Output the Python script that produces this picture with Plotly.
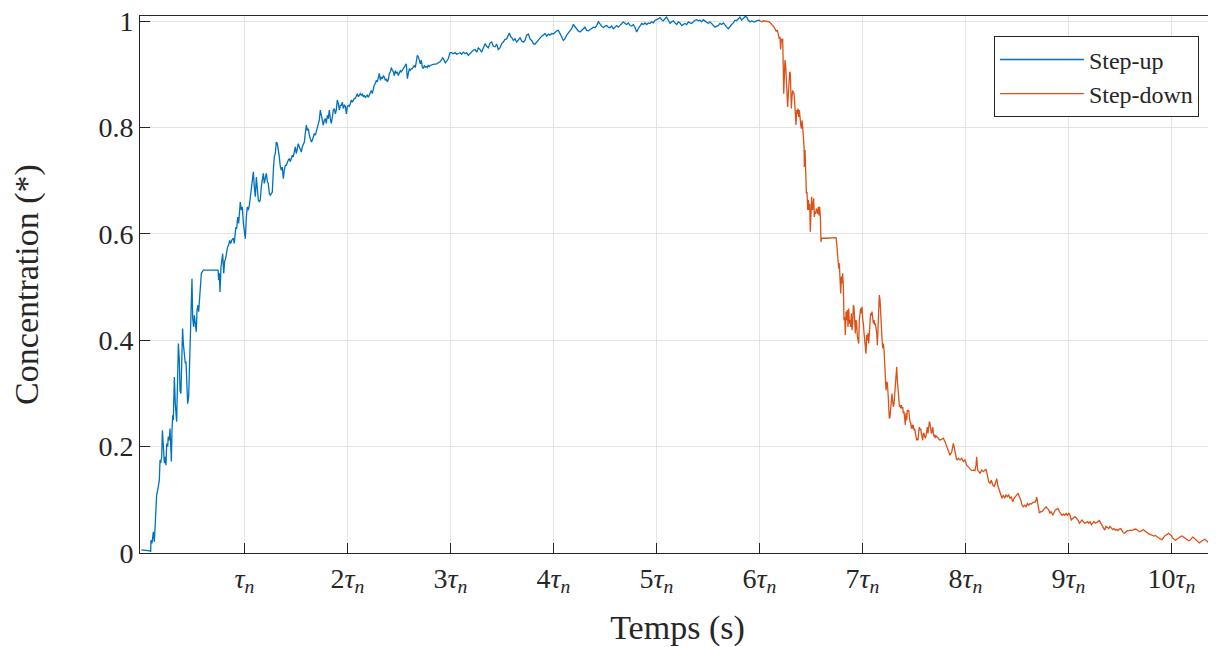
import plotly.graph_objects as go

# ---- data (time in units of tau_n, concentration normalised) ----
up_rise = [
    (0.000, 0.006), (0.084, 0.004), (0.091, 0.002), (0.094, 0.024), (0.104, 0.018), (0.117, 0.040),
    (0.127, 0.021), (0.133, 0.043), (0.143, 0.093), (0.149, 0.109), (0.159, 0.118), (0.169, 0.131),
    (0.175, 0.137), (0.182, 0.175), (0.188, 0.169), (0.198, 0.181), (0.205, 0.231), (0.214, 0.200),
    (0.224, 0.169), (0.233, 0.181), (0.240, 0.165), (0.246, 0.206), (0.256, 0.200), (0.262, 0.219),
    (0.272, 0.212), (0.279, 0.234), (0.285, 0.206), (0.292, 0.172), (0.298, 0.231), (0.305, 0.259),
    (0.311, 0.250), (0.321, 0.331), (0.330, 0.281), (0.343, 0.247), (0.350, 0.306), (0.360, 0.394),
    (0.369, 0.363), (0.376, 0.306), (0.385, 0.300), (0.395, 0.382), (0.401, 0.422), (0.408, 0.394),
    (0.418, 0.369), (0.427, 0.357), (0.434, 0.360), (0.440, 0.306), (0.450, 0.281), (0.460, 0.294),
    (0.470, 0.363), (0.479, 0.394), (0.486, 0.451), (0.492, 0.516), (0.499, 0.441), (0.508, 0.425),
    (0.515, 0.447), (0.525, 0.435), (0.534, 0.416), (0.541, 0.457), (0.550, 0.466), (0.557, 0.454),
    (0.563, 0.472), (0.570, 0.488), (0.576, 0.501), (0.583, 0.526), (0.592, 0.529), (0.602, 0.532),
    (0.745, 0.532), (0.751, 0.513), (0.758, 0.526), (0.764, 0.491), (0.774, 0.538), (0.783, 0.560),
    (0.790, 0.563), (0.800, 0.526), (0.809, 0.548), (0.819, 0.554), (0.829, 0.570), (0.838, 0.576),
    (0.848, 0.579), (0.858, 0.588), (0.868, 0.582), (0.877, 0.588), (0.893, 0.592), (0.903, 0.582),
    (0.913, 0.604),
]

up_mid = [
    (0.919, 0.613), (0.926, 0.610), (0.936, 0.632), (0.945, 0.620), (0.952, 0.645), (0.961, 0.660),
    (0.971, 0.645), (0.981, 0.651), (0.991, 0.620), (1.000, 0.607), (1.010, 0.591), (1.020, 0.632),
    (1.029, 0.651), (1.039, 0.645), (1.049, 0.654), (1.059, 0.670), (1.068, 0.682), (1.078, 0.695),
    (1.088, 0.717), (1.097, 0.689), (1.107, 0.670), (1.117, 0.707), (1.126, 0.682), (1.136, 0.664),
    (1.146, 0.660), (1.155, 0.664), (1.165, 0.689), (1.175, 0.704), (1.185, 0.714), (1.194, 0.695),
    (1.204, 0.707), (1.214, 0.714), (1.224, 0.698), (1.233, 0.695), (1.243, 0.676), (1.253, 0.673),
    (1.262, 0.676), (1.272, 0.679), (1.282, 0.720), (1.291, 0.745), (1.301, 0.751), (1.311, 0.773),
    (1.321, 0.770), (1.330, 0.751), (1.340, 0.745), (1.350, 0.726), (1.359, 0.720), (1.369, 0.726),
    (1.379, 0.704), (1.388, 0.720), (1.398, 0.729), (1.408, 0.729), (1.418, 0.736), (1.427, 0.739),
    (1.437, 0.742), (1.447, 0.736), (1.456, 0.742), (1.466, 0.748), (1.476, 0.745), (1.486, 0.754),
    (1.495, 0.764), (1.505, 0.751), (1.515, 0.761), (1.524, 0.770), (1.534, 0.764), (1.544, 0.758),
    (1.554, 0.754), (1.563, 0.764), (1.573, 0.770), (1.583, 0.773), (1.592, 0.789), (1.602, 0.805),
    (1.612, 0.795), (1.622, 0.798), (1.631, 0.786), (1.641, 0.779), (1.651, 0.773), (1.660, 0.776),
    (1.670, 0.783), (1.680, 0.789), (1.690, 0.786), (1.699, 0.792), (1.709, 0.798), (1.719, 0.808),
    (1.728, 0.814), (1.738, 0.833), (1.748, 0.823), (1.757, 0.808), (1.767, 0.805), (1.777, 0.814),
    (1.787, 0.817), (1.796, 0.808), (1.806, 0.823), (1.816, 0.817), (1.825, 0.833), (1.835, 0.817),
    (1.845, 0.808), (1.855, 0.820), (1.864, 0.833), (1.874, 0.836), (1.884, 0.826), (1.893, 0.833),
    (1.903, 0.852), (1.913, 0.845), (1.923, 0.833), (1.932, 0.842), (1.942, 0.842), (1.952, 0.848),
    (1.961, 0.836), (1.971, 0.842), (1.981, 0.840), (1.991, 0.826), (2.000, 0.840), (2.010, 0.842),
    (2.020, 0.840), (2.029, 0.845), (2.039, 0.852), (2.049, 0.848), (2.058, 0.852), (2.068, 0.855),
    (2.078, 0.855), (2.088, 0.861), (2.097, 0.864), (2.107, 0.858), (2.117, 0.861), (2.126, 0.864),
    (2.136, 0.861), (2.146, 0.863), (2.156, 0.858), (2.165, 0.861), (2.175, 0.857), (2.185, 0.859),
    (2.194, 0.861), (2.204, 0.857), (2.214, 0.861), (2.223, 0.863), (2.233, 0.870), (2.243, 0.864),
    (2.253, 0.873), (2.262, 0.880), (2.272, 0.883), (2.282, 0.889), (2.291, 0.886), (2.301, 0.895),
    (2.311, 0.902), (2.321, 0.889), (2.330, 0.895), (2.340, 0.892), (2.350, 0.898), (2.359, 0.895),
    (2.369, 0.889), (2.379, 0.892), (2.388, 0.886), (2.398, 0.890), (2.408, 0.902), (2.418, 0.905),
    (2.427, 0.913), (2.437, 0.908), (2.447, 0.905), (2.456, 0.898), (2.466, 0.907), (2.476, 0.902),
    (2.486, 0.905), (2.495, 0.898), (2.505, 0.903), (2.515, 0.907), (2.524, 0.905), (2.534, 0.908),
    (2.544, 0.911), (2.554, 0.914), (2.563, 0.917), (2.573, 0.920), (2.583, 0.892), (2.592, 0.905),
    (2.602, 0.911), (2.612, 0.908), (2.622, 0.911), (2.631, 0.911), (2.641, 0.914), (2.651, 0.917),
    (2.660, 0.913), (2.670, 0.927), (2.680, 0.936), (2.690, 0.933), (2.699, 0.924), (2.709, 0.920),
    (2.719, 0.927), (2.728, 0.914), (2.738, 0.911), (2.748, 0.917), (2.757, 0.914), (2.767, 0.915),
    (2.777, 0.913), (2.786, 0.917), (2.796, 0.915),
]

up_plateau = [
    (2.803, 0.917), (2.835, 0.919), (2.868, 0.920), (2.884, 0.922), (2.900, 0.924), (2.916, 0.928),
    (2.926, 0.932), (2.939, 0.927), (2.952, 0.922), (2.965, 0.925), (2.981, 0.930), (2.997, 0.941),
    (3.013, 0.941), (3.029, 0.939), (3.046, 0.941), (3.062, 0.938), (3.078, 0.939), (3.094, 0.941),
    (3.110, 0.938), (3.127, 0.942), (3.143, 0.939), (3.159, 0.941), (3.175, 0.936), (3.191, 0.939),
    (3.207, 0.942), (3.224, 0.946), (3.240, 0.947), (3.256, 0.942), (3.272, 0.950), (3.288, 0.947),
    (3.304, 0.942), (3.321, 0.952), (3.337, 0.958), (3.353, 0.953), (3.369, 0.950), (3.385, 0.959),
    (3.402, 0.961), (3.418, 0.953), (3.434, 0.952), (3.450, 0.957), (3.466, 0.947), (3.482, 0.950),
    (3.499, 0.958), (3.515, 0.961), (3.531, 0.966), (3.547, 0.967), (3.563, 0.974), (3.573, 0.978),
    (3.586, 0.971), (3.599, 0.969), (3.612, 0.964), (3.628, 0.967), (3.644, 0.961), (3.660, 0.966),
    (3.677, 0.969), (3.693, 0.963), (3.709, 0.961), (3.725, 0.964), (3.741, 0.974), (3.758, 0.976),
    (3.774, 0.967), (3.790, 0.964), (3.806, 0.958), (3.822, 0.957), (3.838, 0.961), (3.855, 0.964),
    (3.871, 0.967), (3.887, 0.972), (3.903, 0.974), (3.919, 0.977), (3.936, 0.972), (3.952, 0.976),
    (3.968, 0.974), (3.984, 0.977), (4.000, 0.976), (4.016, 0.980), (4.033, 0.982), (4.049, 0.983),
    (4.065, 0.978), (4.081, 0.971), (4.097, 0.964), (4.113, 0.967), (4.130, 0.974), (4.146, 0.978),
    (4.162, 0.983), (4.178, 0.986), (4.194, 0.994), (4.211, 0.989), (4.227, 0.986), (4.243, 0.982),
    (4.259, 0.980), (4.275, 0.983), (4.292, 0.986), (4.308, 0.989), (4.324, 0.983), (4.340, 0.982),
    (4.356, 0.984), (4.372, 0.986), (4.389, 0.989), (4.405, 0.988), (4.421, 0.992), (4.437, 0.999),
    (4.453, 0.994), (4.470, 0.991), (4.486, 0.988), (4.502, 0.991), (4.518, 0.992), (4.534, 0.989),
    (4.550, 0.988), (4.567, 0.991), (4.583, 0.986), (4.599, 0.989), (4.615, 0.992), (4.631, 0.989),
    (4.647, 0.992), (4.664, 0.997), (4.680, 0.999), (4.696, 0.996), (4.712, 0.994), (4.728, 0.997),
    (4.745, 0.992), (4.761, 0.991), (4.777, 0.994), (4.793, 0.989), (4.809, 0.980), (4.825, 0.986),
    (4.842, 0.992), (4.858, 0.996), (4.874, 0.994), (4.890, 0.997), (4.906, 0.994), (4.923, 0.997),
    (4.939, 0.996), (4.955, 0.999), (4.971, 0.997), (4.987, 1.002), (5.003, 1.003), (5.020, 1.005),
    (5.036, 1.007), (5.052, 1.003), (5.068, 1.001), (5.084, 1.005), (5.100, 1.008), (5.117, 1.002),
    (5.133, 0.996), (5.149, 0.999), (5.165, 1.001), (5.181, 0.997), (5.198, 0.994), (5.214, 0.999),
    (5.230, 0.997), (5.246, 0.992), (5.262, 0.994), (5.278, 0.996), (5.295, 0.994), (5.311, 0.999),
    (5.327, 0.997), (5.343, 0.996), (5.359, 0.999), (5.375, 1.002), (5.392, 1.003), (5.408, 1.001),
    (5.424, 1.002), (5.440, 0.999), (5.456, 1.003), (5.473, 1.001), (5.489, 0.999), (5.505, 0.996),
    (5.521, 0.999), (5.537, 0.996), (5.554, 0.991), (5.570, 0.989), (5.586, 0.991), (5.602, 0.992),
    (5.618, 0.996), (5.634, 0.994), (5.651, 0.997), (5.667, 0.992), (5.683, 0.989), (5.699, 0.986),
    (5.715, 0.991), (5.731, 0.994), (5.748, 0.997), (5.764, 1.002), (5.780, 1.001), (5.796, 1.005),
    (5.812, 1.008), (5.829, 1.002), (5.845, 1.005), (5.861, 1.009), (5.877, 1.008), (5.893, 1.002),
    (5.910, 0.999), (5.926, 1.001), (5.942, 0.999), (5.958, 0.999), (5.974, 1.001), (5.991, 1.002),
    (6.007, 1.001),
]

down_fall = [
    (6.007, 1.001), (6.023, 0.999), (6.039, 1.001), (6.072, 1.000), (6.097, 0.999), (6.120, 0.994),
    (6.136, 0.991), (6.152, 0.986), (6.162, 0.982), (6.175, 0.983), (6.185, 0.974), (6.194, 0.967),
    (6.201, 0.971), (6.207, 0.947), (6.214, 0.967), (6.220, 0.964), (6.227, 0.967), (6.233, 0.920),
    (6.237, 0.864), (6.243, 0.895), (6.249, 0.927), (6.256, 0.917), (6.262, 0.895), (6.269, 0.870),
    (6.275, 0.839), (6.282, 0.864), (6.288, 0.886), (6.295, 0.905), (6.301, 0.902), (6.304, 0.858),
    (6.311, 0.836), (6.317, 0.858), (6.324, 0.870), (6.330, 0.867), (6.337, 0.864), (6.343, 0.848),
    (6.350, 0.820), (6.356, 0.805), (6.363, 0.833), (6.369, 0.826), (6.376, 0.836), (6.382, 0.820),
    (6.389, 0.833), (6.395, 0.814), (6.402, 0.805), (6.408, 0.798), (6.415, 0.814), (6.421, 0.801),
    (6.428, 0.783), (6.434, 0.764), (6.437, 0.726), (6.444, 0.758), (6.450, 0.720), (6.457, 0.676),
    (6.463, 0.679), (6.470, 0.645), (6.476, 0.664), (6.483, 0.645), (6.489, 0.657), (6.495, 0.604),
    (6.502, 0.657), (6.508, 0.670), (6.515, 0.645), (6.521, 0.651), (6.528, 0.667), (6.534, 0.632),
    (6.541, 0.642), (6.547, 0.638), (6.554, 0.648), (6.560, 0.645), (6.567, 0.638), (6.573, 0.651),
    (6.580, 0.635), (6.586, 0.651), (6.593, 0.632), (6.599, 0.585), (6.605, 0.592), (6.654, 0.592),
    (6.719, 0.593), (6.745, 0.593), (6.751, 0.582), (6.758, 0.557), (6.764, 0.545), (6.771, 0.535),
    (6.777, 0.545), (6.783, 0.516), (6.790, 0.488), (6.797, 0.520), (6.803, 0.507), (6.809, 0.526),
    (6.816, 0.501), (6.822, 0.438), (6.829, 0.444), (6.835, 0.410), (6.842, 0.454), (6.848, 0.438),
    (6.855, 0.457), (6.861, 0.425), (6.868, 0.460), (6.874, 0.432), (6.881, 0.438), (6.887, 0.425),
    (6.894, 0.451), (6.900, 0.419), (6.907, 0.432), (6.913, 0.466), (6.919, 0.463), (6.926, 0.438),
    (6.932, 0.413), (6.939, 0.438), (6.945, 0.432), (6.952, 0.407), (6.958, 0.400), (6.965, 0.394),
    (6.971, 0.438), (6.978, 0.454), (6.984, 0.460), (6.991, 0.451), (6.997, 0.463), (7.004, 0.438),
    (7.010, 0.432), (7.017, 0.413), (7.023, 0.400), (7.029, 0.388), (7.036, 0.375), (7.042, 0.410),
    (7.049, 0.400), (7.055, 0.413), (7.062, 0.394), (7.068, 0.413), (7.075, 0.438), (7.081, 0.451),
    (7.088, 0.447), (7.094, 0.454), (7.101, 0.441), (7.107, 0.432), (7.114, 0.438), (7.120, 0.429),
    (7.127, 0.432), (7.133, 0.425), (7.140, 0.413), (7.146, 0.391), (7.152, 0.413), (7.159, 0.460),
    (7.165, 0.485), (7.172, 0.476), (7.178, 0.444), (7.185, 0.419), (7.191, 0.404), (7.198, 0.385),
    (7.204, 0.394), (7.211, 0.382), (7.217, 0.350), (7.224, 0.325), (7.230, 0.306), (7.237, 0.322),
    (7.243, 0.319), (7.250, 0.300), (7.256, 0.285), (7.262, 0.253), (7.269, 0.256), (7.275, 0.269),
    (7.282, 0.285), (7.288, 0.300), (7.295, 0.285), (7.301, 0.275), (7.308, 0.281), (7.314, 0.303),
    (7.321, 0.319), (7.327, 0.331), (7.334, 0.350), (7.340, 0.325), (7.347, 0.313), (7.353, 0.294),
    (7.360, 0.275), (7.366, 0.278), (7.373, 0.272), (7.379, 0.278), (7.385, 0.272), (7.392, 0.275),
    (7.398, 0.263), (7.405, 0.266), (7.411, 0.253), (7.418, 0.241), (7.424, 0.263), (7.431, 0.250),
    (7.437, 0.269), (7.444, 0.266), (7.450, 0.269), (7.457, 0.253), (7.463, 0.247), (7.470, 0.244),
    (7.476, 0.234), (7.483, 0.241), (7.489, 0.234), (7.495, 0.241), (7.502, 0.231), (7.508, 0.234),
    (7.515, 0.225), (7.521, 0.216), (7.528, 0.212), (7.534, 0.216), (7.541, 0.212), (7.547, 0.228),
    (7.554, 0.237), (7.560, 0.231), (7.567, 0.234), (7.573, 0.225), (7.580, 0.216), (7.586, 0.212),
    (7.593, 0.225), (7.599, 0.225), (7.606, 0.219), (7.612, 0.216), (7.618, 0.219), (7.625, 0.231),
    (7.631, 0.237), (7.638, 0.225), (7.644, 0.244), (7.651, 0.247), (7.657, 0.244), (7.664, 0.231),
    (7.670, 0.225), (7.677, 0.228), (7.683, 0.237), (7.690, 0.225), (7.696, 0.219), (7.703, 0.222),
    (7.709, 0.216), (7.715, 0.220), (7.722, 0.219), (7.754, 0.212), (7.787, 0.216),
]

down_tail = [
    (7.803, 0.209), (7.819, 0.200), (7.835, 0.190), (7.851, 0.184), (7.868, 0.190), (7.884, 0.206),
    (7.894, 0.197), (7.903, 0.184), (7.916, 0.175), (7.932, 0.178), (7.949, 0.175), (7.965, 0.178),
    (7.981, 0.172), (7.997, 0.175), (8.013, 0.165), (8.029, 0.162), (8.046, 0.159), (8.062, 0.155),
    (8.078, 0.156), (8.094, 0.155), (8.104, 0.165), (8.110, 0.181), (8.120, 0.156), (8.130, 0.153),
    (8.143, 0.150), (8.159, 0.156), (8.175, 0.153), (8.191, 0.156), (8.201, 0.157), (8.214, 0.147),
    (8.227, 0.134), (8.240, 0.131), (8.253, 0.137), (8.266, 0.128), (8.279, 0.125), (8.292, 0.131),
    (8.305, 0.140), (8.318, 0.125), (8.330, 0.118), (8.343, 0.109), (8.356, 0.103), (8.369, 0.109),
    (8.382, 0.103), (8.395, 0.109), (8.408, 0.106), (8.421, 0.109), (8.434, 0.103), (8.447, 0.106),
    (8.460, 0.096), (8.473, 0.103), (8.486, 0.106), (8.499, 0.109), (8.512, 0.112), (8.525, 0.106),
    (8.538, 0.100), (8.550, 0.090), (8.563, 0.087), (8.576, 0.090), (8.589, 0.087), (8.602, 0.093),
    (8.615, 0.090), (8.628, 0.093), (8.641, 0.092), (8.654, 0.095), (8.667, 0.096), (8.680, 0.096),
    (8.693, 0.105), (8.706, 0.090), (8.719, 0.075), (8.732, 0.078), (8.745, 0.078), (8.758, 0.081),
    (8.771, 0.084), (8.784, 0.087), (8.796, 0.084), (8.809, 0.081), (8.822, 0.075), (8.835, 0.078),
    (8.848, 0.071), (8.861, 0.075), (8.874, 0.081), (8.887, 0.082), (8.900, 0.084), (8.913, 0.078),
    (8.926, 0.075), (8.939, 0.071), (8.952, 0.073), (8.965, 0.071), (8.978, 0.075), (8.991, 0.070),
    (9.004, 0.075), (9.016, 0.071), (9.029, 0.062), (9.042, 0.065), (9.055, 0.067), (9.068, 0.068),
    (9.081, 0.065), (9.094, 0.062), (9.107, 0.056), (9.120, 0.059), (9.133, 0.062), (9.146, 0.059),
    (9.159, 0.056), (9.172, 0.057), (9.185, 0.059), (9.198, 0.056), (9.211, 0.059), (9.224, 0.053),
    (9.236, 0.056), (9.249, 0.059), (9.262, 0.056), (9.275, 0.057), (9.288, 0.059), (9.301, 0.061),
    (9.314, 0.056), (9.327, 0.051), (9.340, 0.046), (9.353, 0.043), (9.366, 0.050), (9.379, 0.048),
    (9.392, 0.046), (9.405, 0.050), (9.418, 0.046), (9.431, 0.044), (9.444, 0.046), (9.457, 0.043),
    (9.470, 0.044), (9.483, 0.042), (9.495, 0.045), (9.508, 0.046), (9.521, 0.042), (9.534, 0.038),
    (9.547, 0.037), (9.560, 0.040), (9.573, 0.042), (9.586, 0.042), (9.599, 0.043), (9.612, 0.042),
    (9.625, 0.043), (9.638, 0.044), (9.651, 0.045), (9.664, 0.044), (9.677, 0.042), (9.690, 0.040),
    (9.703, 0.041), (9.716, 0.043), (9.728, 0.044), (9.741, 0.042), (9.754, 0.040), (9.767, 0.037),
    (9.780, 0.036), (9.793, 0.035), (9.806, 0.034), (9.819, 0.034), (9.832, 0.032), (9.845, 0.033),
    (9.858, 0.031), (9.871, 0.029), (9.884, 0.028), (9.897, 0.026), (9.910, 0.025), (9.923, 0.029),
    (9.936, 0.032), (9.949, 0.034), (9.962, 0.036), (9.974, 0.037), (9.987, 0.035), (10.000, 0.033),
    (10.013, 0.028), (10.026, 0.026), (10.039, 0.024), (10.052, 0.026), (10.065, 0.028), (10.078, 0.029),
    (10.091, 0.031), (10.104, 0.032), (10.117, 0.030), (10.130, 0.028), (10.143, 0.027), (10.156, 0.025),
    (10.169, 0.023), (10.182, 0.024), (10.195, 0.028), (10.207, 0.030), (10.220, 0.028), (10.233, 0.026),
    (10.246, 0.024), (10.259, 0.021), (10.272, 0.019), (10.285, 0.021), (10.298, 0.023), (10.311, 0.025),
    (10.324, 0.026), (10.337, 0.024), (10.350, 0.021), (10.363, 0.019), (10.376, 0.018), (10.395, 0.020),
    (10.415, 0.022),
]

tick_vals = [1, 2, 3, 4, 5, 6, 7, 8, 9, 10]
tick_prefix = ["", "2", "3", "4", "5", "6", "7", "8", "9", "10"]
y_ticks = [0, 0.2, 0.4, 0.6, 0.8, 1.0]
y_labels = ["0", "0.2", "0.4", "0.6", "0.8", "1"]

series_names = ["Step-up", "Step-down"]
series_colors = ["#0072BD", "#D95319"]

# ---- build ----
up = up_rise + up_mid + up_plateau
down = down_fall + down_tail

FONT = "Liberation Serif"
INK = "#262626"

fig = go.Figure()
for pts, name, col in [(up, series_names[0], series_colors[0]),
                       (down, series_names[1], series_colors[1])]:
    fig.add_trace(go.Scatter(
        x=[p[0] for p in pts], y=[p[1] for p in pts],
        mode="lines", name=name,
        line=dict(color=col, width=1.3),
    ))

tick_text = [f"{p}<i>τ</i><sub><i>n</i></sub>" for p in tick_prefix]

# the page body has an 8 px margin, so the figure is sized to fill the rest of the window
fig.update_layout(
    width=1208, height=639,
    margin=dict(l=132, r=1, t=8, b=94),
    paper_bgcolor="white", plot_bgcolor="white",
    font=dict(family=FONT, color=INK, size=28),
    showlegend=True,
    legend=dict(
        x=0.985, y=0.962, xanchor="right", yanchor="top",
        bgcolor="white", bordercolor=INK, borderwidth=1,
        font=dict(family=FONT, size=24, color=INK),
        itemwidth=84, tracegroupgap=0,
    ),
    xaxis=dict(
        range=[-0.0126, 10.424],
        tickmode="array", tickvals=tick_vals, ticktext=tick_text,
        ticks="inside", ticklen=10, tickwidth=1, tickcolor=INK,
        showline=True, linecolor=INK, linewidth=1, mirror=True,
        showgrid=True, gridcolor="#e3e3e3", gridwidth=1,
        zeroline=False, automargin=False, ticklabeloverflow="allow",
        tickfont=dict(family=FONT, size=28, color=INK),
        title=dict(text="Temps (s)", font=dict(family=FONT, size=34, color=INK), standoff=20),
    ),
    yaxis=dict(
        range=[0, 1.01],
        tickmode="array", tickvals=y_ticks, ticktext=y_labels,
        ticks="inside", ticklen=10, tickwidth=1, tickcolor=INK,
        showline=True, linecolor=INK, linewidth=1, mirror=True,
        showgrid=True, gridcolor="#e3e3e3", gridwidth=1,
        zeroline=False, automargin=False, ticklabeloverflow="allow",
        tickfont=dict(family=FONT, size=28, color=INK),
        title=dict(text="Concentration (*)", font=dict(family=FONT, size=34, color=INK), standoff=52),
    ),
)

fig.write_html("out.html")
